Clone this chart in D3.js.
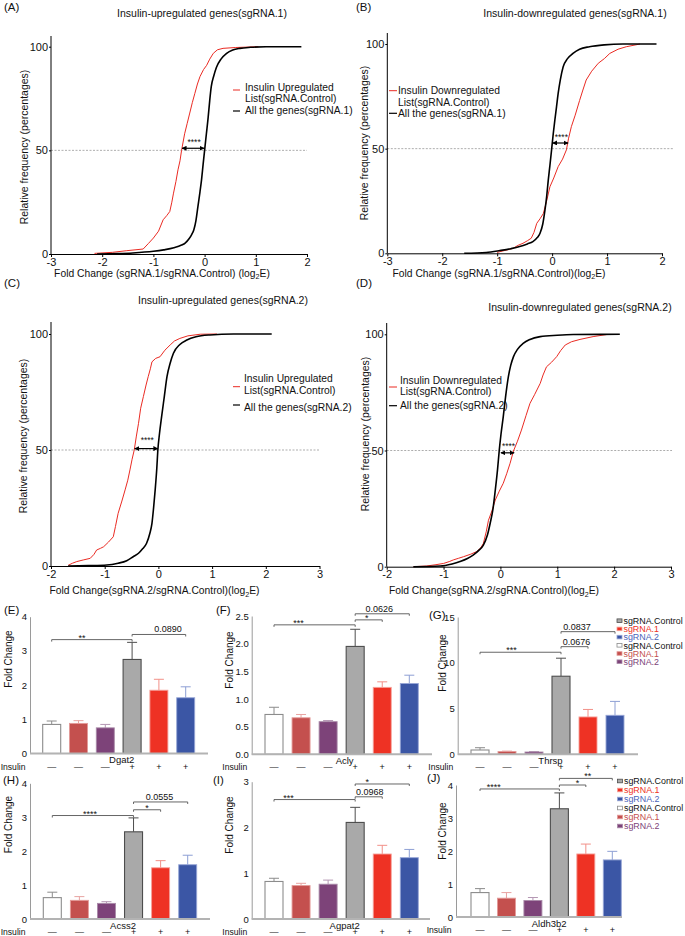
<!DOCTYPE html>
<html><head><meta charset="utf-8">
<script src="https://cdn.jsdelivr.net/npm/d3@7"></script>
<style>
body{margin:0;background:#fff;}
svg{display:block;}
</style></head><body>
<svg id="fig" width="685" height="936"></svg>
<script>
// ---------------- DATA ----------------
const cdfTicksAB = [-3,-2,-1,0,1,2];
const cdfTicksCD = [-2,-1,0,1,2,3];
const freqTicks = [0,50,100];

// Panel A: insulin-upregulated genes (red) vs all genes (black), sgRNA.1
const upListA = [[-2.15,0.3],[-1.8,0.8],[-1.52,1.6],[-1.2,2.4],[-1.1,5],[-1.0,7.7],[-0.9,11],[-0.81,16.5],[-0.74,18.5],[-0.68,20.5],[-0.64,25],[-0.61,29],[-0.56,35],[-0.52,40.6],[-0.48,45],[-0.45,50],[-0.42,54],[-0.39,58],[-0.34,63],[-0.29,68],[-0.24,73],[-0.19,77.5],[-0.14,82],[-0.09,85.6],[-0.02,89],[0.04,91],[0.1,94],[0.17,96.8],[0.25,98.5],[0.36,99.2],[0.6,99.6],[1.05,100]];
const allGenesA = [[-2.1,0],[-1.7,0.2],[-1.4,0.5],[-1.0,1.3],[-0.8,2],[-0.6,3],[-0.45,4.3],[-0.38,5.3],[-0.3,7.5],[-0.25,9.5],[-0.21,11.7],[-0.17,16],[-0.13,23],[-0.09,30],[-0.06,35.8],[-0.03,43],[0,50],[0.035,58],[0.07,66],[0.1,74],[0.13,80.7],[0.18,86],[0.23,90],[0.32,94],[0.43,96.8],[0.55,98.4],[0.69,99.2],[0.9,99.7],[1.2,100],[1.89,100]];
// Panel B: insulin-downregulated genes, sgRNA.1
const downListB = [[-1.0,0.4],[-0.95,0.8],[-0.82,1.6],[-0.71,2.4],[-0.62,3.8],[-0.53,4.8],[-0.45,6],[-0.38,7.2],[-0.33,10],[-0.28,14.3],[-0.22,16.5],[-0.16,19],[-0.1,25],[-0.04,31.8],[0.03,36],[0.11,41.4],[0.19,45],[0.26,49.4],[0.3,55],[0.35,60.5],[0.42,66],[0.5,73],[0.56,78],[0.62,82.8],[0.72,87],[0.84,90.8],[0.95,93],[1.05,95.5],[1.2,97.5],[1.35,98.7],[1.6,100]];
const allGenesB = [[-1.6,0],[-1.2,0.4],[-0.95,1.3],[-0.75,2.2],[-0.59,3.2],[-0.45,4.5],[-0.35,5.6],[-0.27,7.5],[-0.22,9.6],[-0.17,14],[-0.13,20.7],[-0.1,27],[-0.07,35],[-0.04,42],[-0.01,49.4],[0.02,57],[0.05,63.7],[0.08,70],[0.11,76.4],[0.15,83],[0.2,89],[0.28,93],[0.38,95.5],[0.5,97.5],[0.68,98.7],[0.95,99.6],[1.29,100],[1.9,100]];
// Panel C: insulin-upregulated genes, sgRNA.2
const upListC = [[-1.68,0.3],[-1.6,1.2],[-1.52,1.9],[-1.4,2.6],[-1.27,3.3],[-1.2,5],[-1.15,6.9],[-1.08,7.6],[-1.02,8.3],[-0.93,10.3],[-0.84,12.6],[-0.8,17],[-0.75,22.7],[-0.68,28],[-0.62,32.8],[-0.57,37],[-0.53,41.4],[-0.49,46],[-0.45,50],[-0.41,56],[-0.37,61.5],[-0.33,68],[-0.28,73],[-0.23,78],[-0.19,81.6],[-0.15,85],[-0.12,88],[-0.05,89.5],[0.03,90.2],[0.12,93],[0.22,95.3],[0.3,97],[0.4,98.1],[0.55,99.2],[0.78,99.9],[1.09,100]];
const allGenesC = [[-1.68,0],[-1.3,0.15],[-0.96,0.4],[-0.75,1.2],[-0.59,2.3],[-0.47,4],[-0.37,5.5],[-0.29,7.5],[-0.22,9.8],[-0.16,14],[-0.12,18.4],[-0.09,25],[-0.06,32.8],[-0.03,42],[-0.01,50],[0.02,57],[0.06,64.4],[0.11,73],[0.16,81.6],[0.22,87.5],[0.28,91.7],[0.4,95.5],[0.53,97.4],[0.7,98.8],[0.96,99.6],[1.4,100],[2.11,100]];
// Panel D: insulin-downregulated genes, sgRNA.2
const downListD = [[-1.53,0],[-1.3,0.3],[-1.15,0.8],[-1.0,1.4],[-0.9,2.2],[-0.83,2.9],[-0.74,3.6],[-0.65,4.3],[-0.52,5.4],[-0.42,6.5],[-0.35,8],[-0.3,10],[-0.25,15],[-0.21,20],[-0.15,24],[-0.09,28.7],[-0.02,32.5],[0.05,35.9],[0.11,40],[0.17,44.5],[0.23,49.8],[0.3,54],[0.37,58.8],[0.45,65],[0.52,70.3],[0.6,74],[0.7,78.9],[0.75,82.5],[0.81,86],[0.9,88],[0.99,90.4],[1.06,93],[1.14,95.4],[1.25,96.8],[1.4,97.8],[1.63,99],[1.87,99.9]];
const allGenesD = [[-1.53,0],[-1.06,0.3],[-0.85,1.2],[-0.71,2.2],[-0.58,3.5],[-0.48,5],[-0.38,7],[-0.3,9.3],[-0.23,13.5],[-0.18,18.7],[-0.13,25],[-0.09,33],[-0.05,42],[-0.02,50.2],[0.01,57],[0.05,64.6],[0.09,73],[0.14,81.8],[0.18,86.5],[0.23,90.4],[0.3,93.5],[0.4,96.1],[0.52,97.8],[0.7,99],[1.0,99.6],[1.28,99.9],[2.1,100]];

// median-shift arrows [from, to, at %]
const shiftA = [-0.45,0,51];
const shiftB = [0,0.3,52.7];
const shiftC = [-0.45,0,50.6];
const shiftD = [0,0.25,49];

// Bar charts
const genes = ["Dgat2","Acly","Thrsp","Acss2","Agpat2","Aldh3b2"];
const groups = ["sgRNA.Control","sgRNA.1","sgRNA.2","sgRNA.Control","sgRNA.1","sgRNA.2"];
const insulinSigns = ["\u2014","\u2014","\u2014","+","+","+"];
const legendOrder = [3,4,5,0,1,2];

const meanDgat2 = [0.85,0.88,0.75,2.75,1.85,1.63];
const errDgat2  = [0.10,0.08,0.10,0.50,0.32,0.32];
const meanAcly  = [0.72,0.66,0.59,1.95,1.21,1.28];
const errAcly   = [0.13,0.06,0.02,0.31,0.10,0.15];
const meanThrsp = [0.47,0.30,0.25,8.53,4.08,4.26];
const errThrsp  = [0.25,0.05,0.05,1.97,0.82,1.52];
const meanAcss2 = [0.63,0.55,0.46,2.57,1.51,1.60];
const errAcss2  = [0.16,0.11,0.05,0.41,0.21,0.28];
const meanAgpat2 = [0.82,0.73,0.76,2.11,1.42,1.34];
const errAgpat2  = [0.07,0.05,0.09,0.33,0.19,0.18];
const meanAldh3b2 = [0.74,0.57,0.50,3.28,1.91,1.73];
const errAldh3b2  = [0.12,0.17,0.09,0.48,0.30,0.26];

const ticksDgat2 = [0,1,2,3,4];
const ticksAcly = [0,0.5,1,1.5,2,2.5];
const ticksThrsp = [0,5,10,15];
const ticksAcss2 = [0,1,2,3,4];
const ticksAgpat2 = [0,1,2,3];
const ticksAldh3b2 = [0,1,2,3,4];

// significance brackets: [from bar, to bar, level (fold change), label]
const sigDgat2 = [[0,3,3.33,"**"],[3,5,3.48,"0.0890"]];
const sigAcly = [[0,3,2.34,"***"],[3,4,2.43,"*"],[3,5,2.54,"0.0626"]];
const sigThrsp = [[0,3,11.15,"***"],[3,4,11.76,"0.0676"],[3,5,13.4,"0.0837"]];
const sigAcss2 = [[0,3,3.05,"****"],[3,4,3.22,"*"],[3,5,3.45,"0.0555"]];
const sigAgpat2 = [[0,3,2.61,"***"],[3,4,2.67,"0.0968"],[3,5,2.95,"*"]];
const sigAldh3b2 = [[0,3,3.88,"****"],[3,4,4.0,"*"],[3,5,4.2,"**"]];

// ---------------- DRAWING ----------------
const FONT = '"Liberation Sans", Arial, Helvetica, sans-serif';
const svg = d3.select("#fig").attr("font-family", FONT);
const RED = "#ea2b23";

const defs = svg.append("defs");
defs.append("marker").attr("id","ah").attr("viewBox","0 0 10 10")
  .attr("refX",9).attr("refY",5).attr("markerWidth",5).attr("markerHeight",5)
  .attr("markerUnits","userSpaceOnUse").attr("orient","auto-start-reverse")
  .append("path").attr("d","M0,0L10,5L0,10z").attr("fill","#000");

function subLabel(g, x, y, pre, sub, post, size){
  const t = g.append("text").attr("x",x).attr("y",y).attr("text-anchor","middle").attr("font-size",size).attr("fill","#111");
  t.append("tspan").text(pre);
  t.append("tspan").attr("font-size",size*0.7).attr("dy",2.5).text(sub);
  t.append("tspan").attr("dy",-2.5).text(post);
}

function drawCdf(c){
  const g = svg.append("g");
  const x = d3.scaleLinear().domain(d3.extent(c.ticks)).range([c.x0,c.x1]);
  const y = d3.scaleLinear().domain([0,100]).range([c.y0,c.y1]);
  g.append("line").attr("x1",c.x0).attr("x2",c.dashEnd).attr("y1",y(50)).attr("y2",y(50))
    .attr("stroke","#8a8a8a").attr("stroke-width",0.7).attr("stroke-dasharray","2,1.5");
  const lnRed = d3.line().x(d=>x(d[0])).y(d=>y(d[1]));
  const lnBlack = d3.line().x(d=>x(d[0])).y(d=>y(d[1])).curve(d3.curveMonotoneX);
  g.append("path").attr("d",lnRed(c.red)).attr("fill","none").attr("stroke",RED).attr("stroke-width",1);
  g.append("path").attr("d",lnBlack(c.black)).attr("fill","none").attr("stroke","#000").attr("stroke-width",1.6);

  const xa = g.append("g").attr("transform",`translate(0,${c.y0})`)
    .call(d3.axisBottom(x).tickValues(c.ticks).tickSize(3).tickSizeOuter(0).tickPadding(1).tickFormat(d=>String(d)));
  const ya = g.append("g").attr("transform",`translate(${c.x0},0)`)
    .call(d3.axisLeft(y).tickValues(freqTicks).tickSize(2).tickSizeOuter(0).tickPadding(1).tickFormat(d=>String(d)));
  ya.select(".domain").remove();
  g.append("line").attr("x1",c.x0).attr("x2",c.x0).attr("y1",c.y0).attr("y2",c.yTop).attr("stroke","#000");
  [xa,ya].forEach(a=>{
    a.attr("font-family",FONT).attr("font-size",11);
    a.selectAll("text").attr("fill","#111");
    a.selectAll("line,path").attr("stroke","#000");
  });

  // arrow
  const ay = y(c.arrow[2]);
  g.append("line").attr("x1",x(c.arrow[0])+0.5).attr("x2",x(c.arrow[1])-0.5).attr("y1",ay).attr("y2",ay)
    .attr("stroke","#000").attr("stroke-width",1.2)
    .attr("marker-start","url(#ah)").attr("marker-end","url(#ah)");
  g.append("text").attr("x",(x(c.arrow[0])+x(c.arrow[1]))/2+1).attr("y",ay+c.starDy)
    .attr("text-anchor","middle").attr("font-size",8.5).attr("fill","#111").text("****");

  // titles & labels
  g.append("text").attr("x",c.tx).attr("y",c.ty).attr("text-anchor","middle").attr("font-size",10.5).attr("fill","#111").text(c.title);
  g.append("text").attr("x",c.lx).attr("y",c.ly).attr("font-size",11.5).attr("fill","#111").text(c.label);
  g.append("text").attr("transform",`translate(${c.ylx},${c.yly}) rotate(-90)`).attr("dy","0.35em")
    .attr("text-anchor","middle").attr("font-size",10.5).attr("fill","#111").text("Relative frequency (percentages)");
  subLabel(g, c.xlx, c.xly, c.xlab[0], "2", "E)", 10.3);

  // legend
  const L = c.legend;
  L.texts.forEach((t,i)=>{
    g.append("text").attr("x",L.tx).attr("y",L.rows[i]).attr("font-size",10.3).attr("fill","#111").text(t);
  });
  g.append("line").attr("x1",L.red[0]).attr("x2",L.red[1]).attr("y1",L.red[2]).attr("y2",L.red[2]).attr("stroke",RED).attr("stroke-width",1);
  g.append("line").attr("x1",L.black[0]).attr("x2",L.black[1]).attr("y1",L.black[2]).attr("y2",L.black[2]).attr("stroke","#000").attr("stroke-width",1.2);
}

drawCdf({ticks:cdfTicksAB, x0:51, x1:307, y0:254, y1:46.7, yTop:36, dashEnd:307,
  red:upListA, black:allGenesA, arrow:shiftA, starDy:-3.5,
  title:"Insulin-upregulated genes(sgRNA.1)", tx:202, ty:16.8, label:"(A)", lx:4, ly:11,
  ylx:24, yly:147, xlx:162, xly:276.5, xlab:["Fold Change (sgRNA.1/sgRNA.Control) (log"],
  legend:{tx:245, rows:[91,102,113.7], texts:["Insulin Upregulated","List(sgRNA.Control)","All the genes(sgRNA.1)"], red:[233,240,90], black:[233,240,111]}});

drawCdf({ticks:cdfTicksAB, x0:387.3, x1:662, y0:253.3, y1:44, yTop:33, dashEnd:673,
  red:downListB, black:allGenesB, arrow:shiftB, starDy:-3,
  title:"Insulin-downregulated genes(sgRNA.1)", tx:575, ty:16.8, label:"(B)", lx:356, ly:11,
  ylx:364, yly:143, xlx:499, xly:276.5, xlab:["Fold Change (sgRNA.1/sgRNA.Control)(log"],
  legend:{tx:398, rows:[94.4,106.4,117], texts:["Insulin Downregulated","List(sgRNA.Control)","All the genes(sgRNA.1)"], red:[389,397,90.7], black:[389,397,113.3]}});

drawCdf({ticks:cdfTicksCD, x0:51, x1:319.5, y0:566, y1:334, yTop:322, dashEnd:319.5,
  red:upListC, black:allGenesC, arrow:shiftC, starDy:-6,
  title:"Insulin-upregulated genes(sgRNA.2)", tx:223, ty:303.8, label:"(C)", lx:4, ly:287,
  ylx:23.3, yly:436, xlx:154.5, xly:594, xlab:["Fold Change(sgRNA.2/sgRNA.Control)(log"],
  legend:{tx:244, rows:[381.7,393.7,410.7], texts:["Insulin Upregulated","List(sgRNA.Control)","All the genes(sgRNA.2)"], red:[233,240,386.7], black:[233,240,405]}});

drawCdf({ticks:cdfTicksCD, x0:386.7, x1:671, y0:566.7, y1:334.3, yTop:323, dashEnd:672,
  red:downListD, black:allGenesD, arrow:shiftD, starDy:-4,
  title:"Insulin-downregulated genes(sgRNA.2)", tx:580, ty:310.8, label:"(D)", lx:356, ly:287,
  ylx:365, yly:434, xlx:494, xly:594, xlab:["Fold Change(sgRNA.2/sgRNA.Control)(log"],
  legend:{tx:400, rows:[383.5,395,409], texts:["Insulin Downregulated","List(sgRNA.Control)","All the genes(sgRNA.2)"], red:[389,397,387], black:[389,397,405.7]}});

// ---- bar charts ----
const fills   = ["#ffffff","#c4504e","#7d4379","#a9a9a9","#ee3224","#3b56a5"];
const strokes = ["#8c8c8c","#e39a98","#a98aa8","#4d4d4d","#f5a19a","#97a6d6"];
const errCols = ["#8c8c8c","#e8a3a1","#b497b3","#4d4d4d","#f29088","#8d9fd4"];
const legendTextCols = ["#111","#c4504e","#7d4379","#111","#ee3224","#4b63b9"];

const barPanels = [
  {gene:genes[0], mean:meanDgat2, err:errDgat2, ymax:4, ticks:ticksDgat2, fmt:"d", sig:sigDgat2, label:"(E)"},
  {gene:genes[1], mean:meanAcly, err:errAcly, ymax:2.5, ticks:ticksAcly, fmt:".1f", sig:sigAcly, label:"(F)"},
  {gene:genes[2], mean:meanThrsp, err:errThrsp, ymax:15, ticks:ticksThrsp, fmt:"d", sig:sigThrsp, label:"(G)"},
  {gene:genes[3], mean:meanAcss2, err:errAcss2, ymax:4, ticks:ticksAcss2, fmt:"d", sig:sigAcss2, label:"(H)"},
  {gene:genes[4], mean:meanAgpat2, err:errAgpat2, ymax:3, ticks:ticksAgpat2, fmt:"d", sig:sigAgpat2, label:"(I)"},
  {gene:genes[5], mean:meanAldh3b2, err:errAldh3b2, ymax:4, ticks:ticksAldh3b2, fmt:"d", sig:sigAldh3b2, label:"(J)"}
];
const barLayout = [
  {ax:30, base:753.5, top:616.7, b0:51.7, b5:185.7, axEnd:208, lab:[4,614], yl:[8,659], dx:[-10,9]},
  {ax:251.7, base:754.3, top:616, b0:274, b5:409.3, axEnd:432, lab:[216,614], yl:[229,660], dx:[-16,-2,-3]},
  {ax:457.7, base:754.3, top:617, b0:480, b5:615, axEnd:638, lab:[429,619], yl:[442,663], dx:[-9,2,-11], legend:{x:617,y:620.7,dy:8.2}},
  {ax:30, base:919, top:783.3, b0:52.3, b5:187.7, axEnd:210, lab:[3,784], yl:[8,824.5], dx:[-3,0,-1]},
  {ax:251.7, base:919, top:781.7, b0:274, b5:409.3, axEnd:430, lab:[213,784], yl:[229,825], dx:[-26,1,-15]},
  {ax:456, base:917, top:785, b0:480, b5:612.3, axEnd:622, lab:[427,782], yl:[442,831], dx:[-26,5,2], legend:{x:617.5,y:781,dy:9}}
];

function drawBars(p, L){
  const g = svg.append("g");
  const x = d3.scaleLinear().domain([0,5]).range([L.b0,L.b5]);
  const y = d3.scaleLinear().domain([0,p.ymax]).range([L.base,L.top]);
  const bw = 18;

  const ya = g.append("g").attr("transform",`translate(${L.ax},0)`)
    .call(d3.axisLeft(y).tickValues(p.ticks).tickSize(0).tickSizeOuter(0).tickPadding(3).tickFormat(d3.format(p.fmt)));
  ya.attr("font-family",FONT).attr("font-size",9.5);
  ya.select(".domain").attr("stroke","#9a9a9a").attr("stroke-width",1);
  ya.selectAll("text").attr("fill","#111");

  p.mean.forEach((m,i)=>{
    const cx = x(i);
    const yt = y(m), ye = y(m + p.err[i]);
    g.append("line").attr("x1",cx).attr("x2",cx).attr("y1",yt).attr("y2",ye).attr("stroke",errCols[i]).attr("stroke-width",1);
    g.append("line").attr("x1",cx-5).attr("x2",cx+5).attr("y1",ye).attr("y2",ye).attr("stroke",errCols[i]).attr("stroke-width",1);
    g.append("rect").attr("x",cx-bw/2).attr("y",yt).attr("width",bw).attr("height",L.base-yt)
      .attr("fill",fills[i]).attr("stroke",strokes[i]).attr("stroke-width",(i===0||i===3)?1.1:0.9);
  });
  g.append("line").attr("x1",L.ax).attr("x2",L.axEnd).attr("y1",L.base).attr("y2",L.base)
    .attr("stroke","#b3b3b3").attr("stroke-width",2);

  // brackets
  p.sig.forEach((s,k)=>{
    const x1 = x(s[0]), x2 = x(s[1]), yy = y(s[2]);
    g.append("path").attr("d",`M${x1},${yy+2}V${yy}H${x2}V${yy+2}`).attr("fill","none").attr("stroke","#555").attr("stroke-width",0.9);
    const stars = /^\*+$/.test(s[3]);
    g.append("text").attr("x",(x1+x2)/2 + L.dx[k]).attr("y", stars ? yy+1 : yy-2)
      .attr("text-anchor","middle").attr("font-size",9).attr("fill","#111").text(s[3]);
  });

  // gene label, insulin row
  g.append("text").attr("x",(x(2)+x(3))/2+3).attr("y",L.base+9.5).attr("text-anchor","middle").attr("font-size",9.5).attr("fill","#111").text(p.gene);
  g.append("text").attr("x",L.ax-4.5).attr("y",L.base+16).attr("text-anchor","end").attr("font-size",8.6).attr("fill","#111").text("Insulin");
  insulinSigns.forEach((s,i)=>{
    g.append("text").attr("x",x(i)).attr("y",L.base+16).attr("text-anchor","middle").attr("font-size",9).attr("fill","#111").text(s);
  });

  // y label, panel label
  g.append("text").attr("transform",`translate(${L.yl[0]},${L.yl[1]}) rotate(-90)`).attr("dy","0.35em")
    .attr("text-anchor","middle").attr("font-size",10).attr("fill","#111").text("Fold Change");
  g.append("text").attr("x",L.lab[0]).attr("y",L.lab[1]).attr("font-size",11.5).attr("fill","#111").text(p.label);

  if (L.legend){
    legendOrder.forEach((gi,r)=>{
      const yy = L.legend.y + r*L.legend.dy;
      g.append("rect").attr("x",L.legend.x).attr("y",yy-1.8).attr("width",5).attr("height",3.6)
        .attr("fill",fills[gi]).attr("stroke",strokes[gi]).attr("stroke-width",0.8);
      g.append("text").attr("x",L.legend.x+6.5).attr("y",yy+3.3).attr("font-size",8.9)
        .attr("fill",legendTextCols[gi]).text(groups[gi]);
    });
  }
}
barPanels.forEach((p,i)=>drawBars(p, barLayout[i]));
</script>
</body></html>
